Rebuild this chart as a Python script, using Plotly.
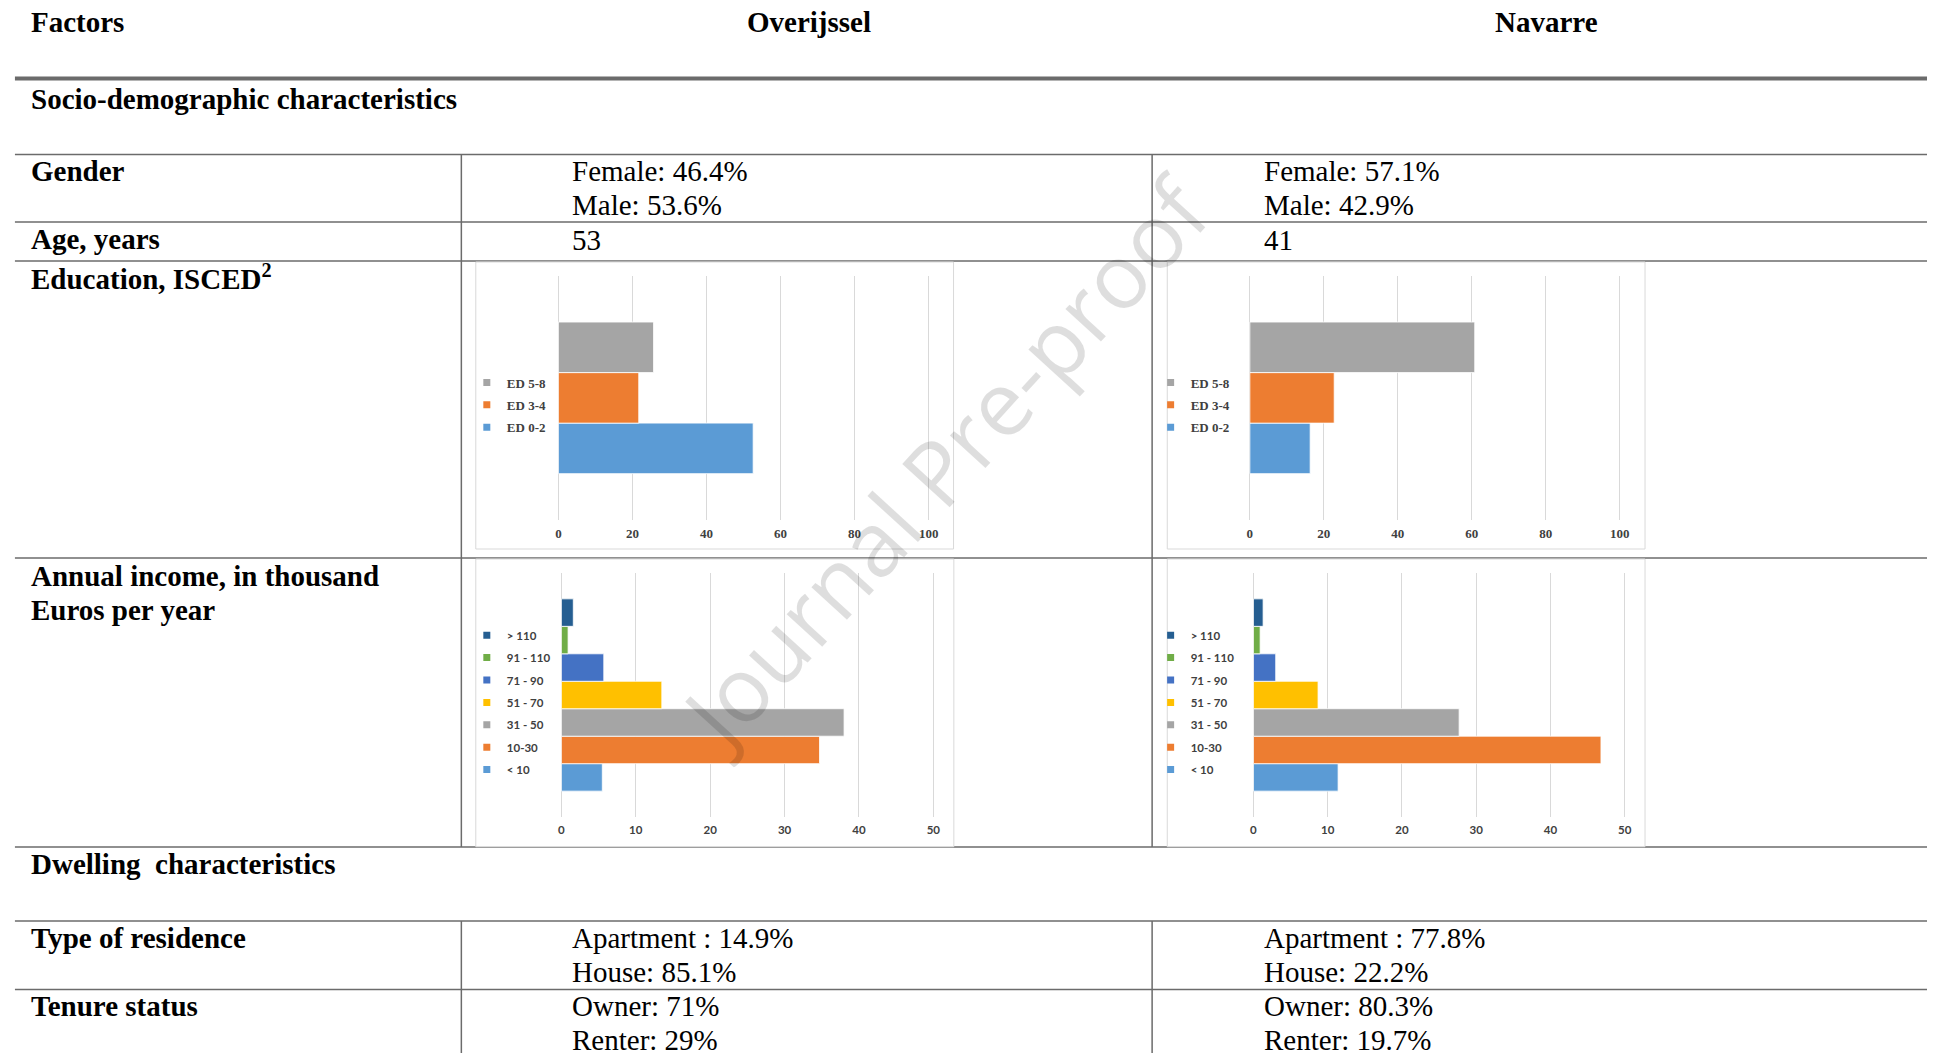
import plotly.graph_objects as go

W, H = 1935, 1053


def px(x):
    return x / W


def py(y):
    return 1 - y / H


# ---------------- data ----------------
regions = ["Overijssel", "Navarre"]

edu_levels = ["ED 0-2", "ED 3-4", "ED 5-8"]          # bottom -> top
edu_overijssel = [52.6, 21.7, 25.7]
edu_navarre = [16.3, 22.8, 60.8]
edu_colors = ["#5B9BD5", "#ED7D31", "#A5A5A5"]
edu_ticks = [0, 20, 40, 60, 80, 100]

income_bands = ["< 10", "10-30", "31 - 50", "51 - 70", "71 - 90", "91 - 110", "> 110"]  # bottom -> top
income_overijssel = [5.5, 34.7, 38.0, 13.5, 5.7, 0.9, 1.6]
income_navarre = [11.4, 46.8, 27.7, 8.7, 3.0, 0.9, 1.3]
income_colors = ["#5B9BD5", "#ED7D31", "#A5A5A5", "#FFC000", "#4472C4", "#70AD47", "#255E91"]
income_ticks = [0, 10, 20, 30, 40, 50]

header_labels = ["Factors", "Overijssel", "Navarre"]
section_labels = ["Socio-demographic characteristics", "Dwelling  characteristics"]
row_labels = ["Gender", "Age, years", "Education, ISCED<sup>2</sup>",
              "Annual income, in thousand", "Euros per year",
              "Type of residence", "Tenure status"]
gender_overijssel = ["Female: 46.4%", "Male: 53.6%"]
gender_navarre = ["Female: 57.1%", "Male: 42.9%"]
age_overijssel = "53"
age_navarre = "41"
residence_overijssel = ["Apartment : 14.9%", "House: 85.1%"]
residence_navarre = ["Apartment : 77.8%", "House: 22.2%"]
tenure_overijssel = ["Owner: 71%", "Renter: 29%"]
tenure_navarre = ["Owner: 80.3%", "Renter: 19.7%"]
watermark = "Journal Pre-proof"

# ---------------- figure ----------------
fig = go.Figure()

SERIF = "Liberation Serif"
SANS = "Lato"

charts = [
    # (values, labels, colors, xaxis, yaxis, legend)
    (edu_overijssel, edu_levels, edu_colors, "x", "y", "legend"),
    (edu_navarre, edu_levels, edu_colors, "x2", "y2", "legend2"),
    (income_overijssel, income_bands, income_colors, "x3", "y3", "legend3"),
    (income_navarre, income_bands, income_colors, "x4", "y4", "legend4"),
]

for vals, labels, colors, xa, ya, lg in charts:
    for v, lab, col in zip(vals, labels, colors):
        fig.add_trace(go.Bar(
            x=[v], y=["c"], orientation="h", name=lab,
            marker=dict(color=col, line=dict(color="white", width=0.8)),
            xaxis=xa, yaxis=ya, showlegend=False, hoverinfo="x+name",
        ))
    # legend-only entries (top item first)
    for lab, col in list(zip(labels, colors))[::-1]:
        fig.add_trace(go.Scatter(
            x=[None], y=[None], mode="markers", name=lab,
            marker=dict(symbol="square", size=7, color=col),
            xaxis=xa, yaxis=ya, legend=lg, legendgroup=lg + lab,
            showlegend=True,
        ))

grid = "#D9D9D9"


def xax(x0, x1, rng, ticks, font, standoff):
    return dict(domain=[px(x0), px(x1)], range=rng, tickvals=ticks,
                showgrid=True, gridcolor=grid, gridwidth=1, zeroline=False,
                showline=False, ticks="", tickfont=font,
                ticklabelstandoff=standoff, fixedrange=True)


def yax(y_top, y_bot, rng, anchor):
    return dict(domain=[py(y_bot), py(y_top)], range=rng, type="category",
                showticklabels=False, showgrid=False, zeroline=False,
                anchor=anchor, fixedrange=True)


edu_tick_font = dict(family=SERIF, size=13, color="#404040", weight="bold")
inc_tick_font = dict(family=SANS, size=11.5, color="#404040", weight="bold")

edu_u = 3.72
inc_u = 7.47
fig.update_layout(
    xaxis=xax(560 - 0.5 * edu_u, 932 + 0.5 * edu_u, [-0.5, 100.5], edu_ticks, edu_tick_font, 4) | dict(anchor="y"),
    xaxis2=xax(1254.7 - 0.5 * edu_u, 1626.3 + 0.5 * edu_u, [-0.5, 100.5], edu_ticks, edu_tick_font, 4) | dict(anchor="y2"),
    xaxis3=xax(563 - 0.25 * inc_u, 936.7 + 0.25 * inc_u, [-0.25, 50.25], income_ticks, inc_tick_font, 5) | dict(anchor="y3"),
    xaxis4=xax(1258.3 - 0.25 * inc_u, 1631.3 + 0.25 * inc_u, [-0.25, 50.25], income_ticks, inc_tick_font, 5) | dict(anchor="y4"),
    yaxis=yax(275.7, 520, [-0.6366, 0.6366], "x"),
    yaxis2=yax(275.7, 520, [-0.6366, 0.6366], "x2"),
    yaxis3=yax(573.3, 816.7, [-0.5, 0.5], "x3"),
    yaxis4=yax(573.3, 816.7, [-0.5, 0.5], "x4"),
    barmode="group", bargap=0.21, bargroupgap=0,
)


def legend_cfg(x_left, y_mid, fam, size, gap):
    return dict(x=px(x_left), y=py(y_mid), xanchor="left", yanchor="middle",
                xref="paper", yref="paper", bgcolor="rgba(0,0,0,0)",
                borderwidth=0, traceorder="grouped", tracegroupgap=gap,
                font=dict(family=fam, size=size, color="#404040", weight="bold"),
                itemclick=False, itemdoubleclick=False)


fig.update_layout(
    legend=legend_cfg(468, 405, SERIF, 13, 2.5),
    legend2=legend_cfg(1155, 405, SERIF, 13, 2.5),
    legend3=legend_cfg(468, 702.7, SANS, 11.5, 3.4),
    legend4=legend_cfg(1155, 702.7, SANS, 11.5, 3.4),
)

# ---------------- table rules ----------------
shapes = []
line_col = "#6B6B6B"
shapes.append(dict(type="line", xref="paper", yref="paper", x0=px(14), x1=1,
                   y0=py(78.5), y1=py(78.5), line=dict(color=line_col, width=4), layer="below"))
for yy in [154.5, 222, 261, 558, 847, 921, 989.5]:
    shapes.append(dict(type="line", xref="paper", yref="paper", x0=px(14), x1=1,
                       y0=py(yy), y1=py(yy), line=dict(color=line_col, width=1.5), layer="below"))
for xx in [462.5, 1156.5]:
    for (ya, yb) in [(154.5, 847), (921, 1053)]:
        shapes.append(dict(type="line", xref="paper", yref="paper", x0=px(xx), x1=px(xx),
                           y0=py(ya), y1=py(yb), line=dict(color=line_col, width=1.5), layer="below"))
# chart frames
for (x0, x1, y0, y1) in [(477, 957, 262, 549), (1171.7, 1651.7, 262, 549),
                         (477, 957.3, 559, 846.7), (1171.7, 1651.7, 559, 846.7)]:
    shapes.append(dict(type="rect", xref="paper", yref="paper", x0=px(x0), x1=px(x1),
                       y0=py(y1), y1=py(y0), line=dict(color="#D9D9D9", width=1),
                       fillcolor="white", layer="below"))
fig.update_layout(shapes=shapes)

# ---------------- table text ----------------
ann = []


def txt(s, x, y, bold=False, size=29, anchor="left"):
    ann.append(dict(text=s, x=px(x), y=py(y), xref="paper", yref="paper",
                    xanchor=anchor, yanchor="middle", showarrow=False,
                    font=dict(family=SERIF, size=size, color="black",
                              weight="bold" if bold else "normal")))


txt(header_labels[0], 28, 22, bold=True)
txt(header_labels[1], 747, 22, bold=True)
txt(header_labels[2], 1499, 22, bold=True)
txt(section_labels[0], 28, 99, bold=True)
txt(section_labels[1], 28, 864, bold=True)

txt(row_labels[0], 28, 171, bold=True)
txt(row_labels[1], 28, 239, bold=True)
txt(row_labels[2], 28, 277, bold=True)
txt(row_labels[3], 28, 576, bold=True)
txt(row_labels[4], 28, 610, bold=True)
txt(row_labels[5], 28, 938, bold=True)
txt(row_labels[6], 28, 1006, bold=True)

col_x = [572, 1267]
for cx, g in zip(col_x, [gender_overijssel, gender_navarre]):
    txt(g[0], cx, 171)
    txt(g[1], cx, 205)
for cx, a in zip(col_x, [age_overijssel, age_navarre]):
    txt(a, cx, 239.5)
for cx, r in zip(col_x, [residence_overijssel, residence_navarre]):
    txt(r[0], cx, 938)
    txt(r[1], cx, 972)
for cx, t in zip(col_x, [tenure_overijssel, tenure_navarre]):
    txt(t[0], cx, 1006)
    txt(t[1], cx, 1040)

# watermark
ann.append(dict(text=watermark, x=px(947), y=py(462), xref="paper", yref="paper",
                xanchor="center", yanchor="middle", showarrow=False, textangle=-47.6,
                font=dict(family="Open Sans", size=90, color="rgba(0,0,0,0.13)")))

fig.update_layout(
    annotations=ann,
    width=W, height=H,
    margin=dict(l=0, r=0, t=0, b=0),
    paper_bgcolor="white", plot_bgcolor="rgba(0,0,0,0)",
    showlegend=True,
)

# remove the default page margin and scrollbars so the figure fills the window exactly
fig.write_html(
    "out.html", config=dict(displayModeBar=False),
    post_script=("document.documentElement.style.overflow='hidden';"
                 "document.body.style.overflow='hidden';"
                 "document.body.style.margin='0';"),
)
